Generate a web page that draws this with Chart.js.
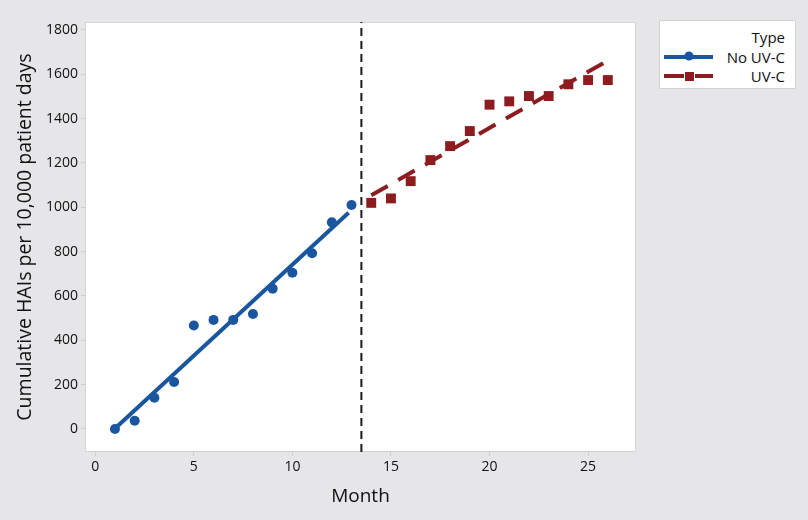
<!DOCTYPE html>
<html>
<head>
<meta charset="utf-8">
<script src="https://cdn.jsdelivr.net/npm/chart.js@4/dist/chart.umd.min.js"></script>
<style>
  html, body { margin: 0; padding: 0; background: #e6e5e8; }
  #wrap { position: relative; width: 808px; height: 520px; background: #e6e5e8; overflow: hidden; }
  #legend {
    position: absolute; left: 659px; top: 20px; width: 137px; height: 69px;
    background: #ffffff; border: 1px solid #d2d2d2; box-sizing: border-box;
    font-family: "Open Sans", sans-serif; font-size: 15px; color: #111111;
  }
  #legend .row { position: absolute; right: 10px; line-height: 18px; }
  #legend svg { position: absolute; left: 0; }
</style>
</head>
<body>
<div id="wrap">
  <canvas id="c" width="808" height="520"></canvas>
  <div id="legend">
    <div class="row" style="top:7px;">Type</div>
    <svg width="60" height="69" style="top:0">
      <line x1="4" y1="36" x2="53" y2="36" stroke="#1a56a0" stroke-width="4"/>
      <circle cx="29" cy="35" r="4.5" fill="#1a56a0"/>
      <line x1="4" y1="55" x2="24" y2="55" stroke="#8c1c1f" stroke-width="4"/>
      <line x1="35" y1="55" x2="53" y2="55" stroke="#8c1c1f" stroke-width="4"/>
      <rect x="25" y="51" width="9" height="9" fill="#8c1c1f"/>
    </svg>
    <div class="row" style="top:27px;">No UV-C</div>
    <div class="row" style="top:46px;">UV-C</div>
  </div>
</div>
<script>
// ---- data ----
const monthsNoUVC = [1, 2, 3, 4, 5, 6, 7, 8, 9, 10, 11, 12, 13];
const valuesNoUVC = [0, 37, 141, 212, 467, 492, 492, 519, 633, 705, 793, 932, 1010];
const monthsUVC = [14, 15, 16, 17, 18, 19, 20, 21, 22, 23, 24, 25, 26];
const valuesUVC = [1020, 1040, 1118, 1213, 1276, 1344, 1463, 1478, 1502, 1502, 1555, 1574, 1574];
// fitted lines (endpoints)
const fitNoUVCMonths = [1, 12.85];
const fitNoUVCValues = [2, 975];
const fitUVCMonths = [14, 26];
const fitUVCValues = [1054, 1662];
// intervention reference line
const interventionMonth = 13.5;
// tick labels
const xTicks = [0, 5, 10, 15, 20, 25];
const yTicks = [0, 200, 400, 600, 800, 1000, 1200, 1400, 1600, 1800];
const xRange = [-0.52, 27.43];
const yRange = [-104, 1836];

const BLUE = '#1a56a0';
const RED = '#8c1c1f';
const FONT = '"Open Sans", sans-serif';
const TEXT = '#111111';

const toXY = (xs, ys) => xs.map((x, i) => ({ x: x, y: ys[i] }));

const plotFrame = {
  id: 'plotFrame',
  beforeDatasetsDraw(chart) {
    const { ctx, chartArea: a } = chart;
    ctx.save();
    ctx.strokeStyle = '#d4d4d4';
    ctx.lineWidth = 1;
    ctx.strokeRect(a.left + 0.5, a.top + 0.5, a.right - a.left - 1, a.bottom - a.top - 1);
    ctx.restore();
  },
  beforeDraw(chart) {
    const { ctx, chartArea: a } = chart;
    ctx.save();
    ctx.fillStyle = '#e6e5e8';
    ctx.fillRect(0, 0, chart.width, chart.height);
    ctx.fillStyle = '#ffffff';
    ctx.fillRect(a.left, a.top, a.right - a.left, a.bottom - a.top);
    ctx.restore();
  }
};

new Chart(document.getElementById('c'), {
  type: 'scatter',
  data: {
    datasets: [
      {
        label: 'ref',
        data: [{ x: interventionMonth, y: yRange[0] }, { x: interventionMonth, y: yRange[1] }],
        showLine: true, borderColor: '#1a1a1a', borderWidth: 2, borderDash: [8, 5],
        pointRadius: 0
      },
      {
        label: 'fit No UV-C',
        data: toXY(fitNoUVCMonths, fitNoUVCValues),
        showLine: true, borderColor: BLUE, borderWidth: 4, pointRadius: 0
      },
      {
        label: 'fit UV-C',
        data: toXY(fitUVCMonths, fitUVCValues),
        showLine: true, borderColor: RED, borderWidth: 4, borderDash: [19, 12], pointRadius: 0
      },
      {
        label: 'No UV-C',
        data: toXY(monthsNoUVC, valuesNoUVC),
        pointStyle: 'circle', pointRadius: 5, backgroundColor: BLUE, borderColor: BLUE, borderWidth: 0
      },
      {
        label: 'UV-C',
        data: toXY(monthsUVC, valuesUVC),
        pointStyle: 'rect', pointRadius: 7, backgroundColor: RED, borderColor: RED, borderWidth: 0
      }
    ]
  },
  options: {
    responsive: false,
    animation: false,
    devicePixelRatio: 1,
    layout: { padding: { left: 0, top: 22, right: 172, bottom: 0 } },
    plugins: { legend: { display: false }, tooltip: { enabled: false } },
    scales: {
      x: {
        type: 'linear', min: xRange[0], max: xRange[1],
        afterBuildTicks(s) { s.ticks = xTicks.map(v => ({ value: v })); },
        afterFit(s) { s.height = 68; },
        grid: { drawOnChartArea: false, drawTicks: true, tickLength: 4, color: '#cfcfcf' },
        border: { display: false },
        ticks: { font: { family: FONT, size: 14 }, color: TEXT, padding: 3, maxRotation: 0, callback: v => String(v) },
        title: { display: true, text: 'Month', font: { family: FONT, size: 19 }, color: TEXT, padding: { top: 0, bottom: 12 } }
      },
      y: {
        type: 'linear', min: yRange[0], max: yRange[1],
        afterBuildTicks(s) { s.ticks = yTicks.map(v => ({ value: v })); },
        afterFit(s) { s.width = 85; },
        grid: { drawOnChartArea: false, drawTicks: true, tickLength: 4, color: '#cfcfcf' },
        border: { display: false },
        ticks: { font: { family: FONT, size: 14 }, color: TEXT, padding: 3, callback: v => String(v) },
        title: { display: true, text: 'Cumulative HAIs per 10,000 patient days', font: { family: FONT, size: 19.5 }, color: TEXT, padding: { top: 14, bottom: 0 } }
      }
    }
  },
  plugins: [plotFrame]
});
</script>
</body>
</html>
